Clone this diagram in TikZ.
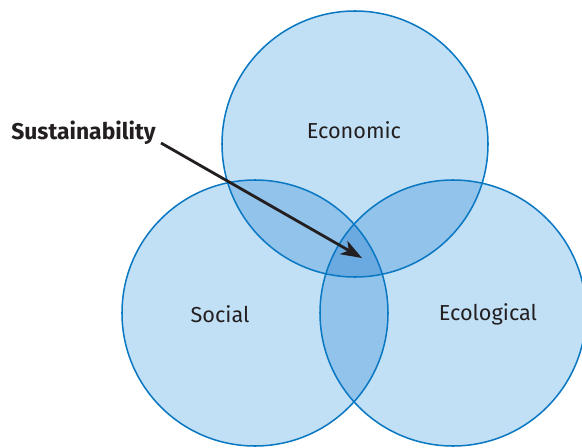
\documentclass[tikz,border=0pt]{standalone}
\usepackage{fontspec}
\setmainfont{Fira Sans}
\usepackage{xcolor}
\usepackage{tikz}
\usetikzlibrary{arrows.meta}
\usetikzlibrary{positioning}

\definecolor{lightblue}{HTML}{C2E0F5}
\definecolor{midblue}{HTML}{92C3EA}
\definecolor{deepblue}{HTML}{6BAAE0}
\definecolor{ringblue}{HTML}{0A78C2}
\definecolor{inkgrey}{HTML}{231F20}

\begin{document}
\begin{tikzpicture}[x=0.03cm,y=-0.03cm,>={Stealth[length=18pt,width=13pt,inset=5pt]},semithick]
 				 \tikzstyle{ring}=[draw=ringblue, line width=1.3pt]
 				 \tikzstyle{lbl}=[text=inkgrey, font=\fontsize{18.5}{22}\selectfont]
 				 \useasboundingbox (0,0) rectangle (582,448);
 					 % circle centres
 					 \coordinate (Ec) at (355,144);
 					 \coordinate (So) at (255,313);
 					 \coordinate (Eo) at (453,313);
 					 \def\rad{133}
 					 % single fills
 					 \fill[lightblue] (Ec) circle (\rad) (So) circle (\rad) (Eo) circle (\rad);
 					 % pairwise overlaps
 					 \begin{scope}
 					 \clip (Ec) circle (\rad);
 					 \fill[midblue] (So) circle (\rad) (Eo) circle (\rad);
 					 \end{scope}
 					 \begin{scope}
 					 \clip (So) circle (\rad);
 					 \fill[midblue] (Eo) circle (\rad);
 					 \end{scope}
 					 % centre
 					 \begin{scope}
 					 \clip (Ec) circle (\rad);
 					 \clip (So) circle (\rad);
 					 \fill[deepblue] (Eo) circle (\rad);
 					 \end{scope}
 					 \draw[ring] (Ec) circle (\rad) (So) circle (\rad) (Eo) circle (\rad);
 					 % labels
 					 \node[lbl]           (A) at (354,130)   {Economic};
 					 \node[lbl]           (B) at (220,314)   {Social};
 					 \node[lbl]           (C) at (488,314)   {Ecological};
 					 \node[lbl, font=\fontsize{19.5}{22}\selectfont\bfseries, anchor=west, inner sep=0pt] (S) at (11,133) {Sustainability};
 					 \coordinate          (U) at (161,143);
 					 \coordinate          (T) at (362,258);
				\draw[->, draw=inkgrey, line width=2.4pt] (U) -- (T);
\end{tikzpicture}
\end{document}
